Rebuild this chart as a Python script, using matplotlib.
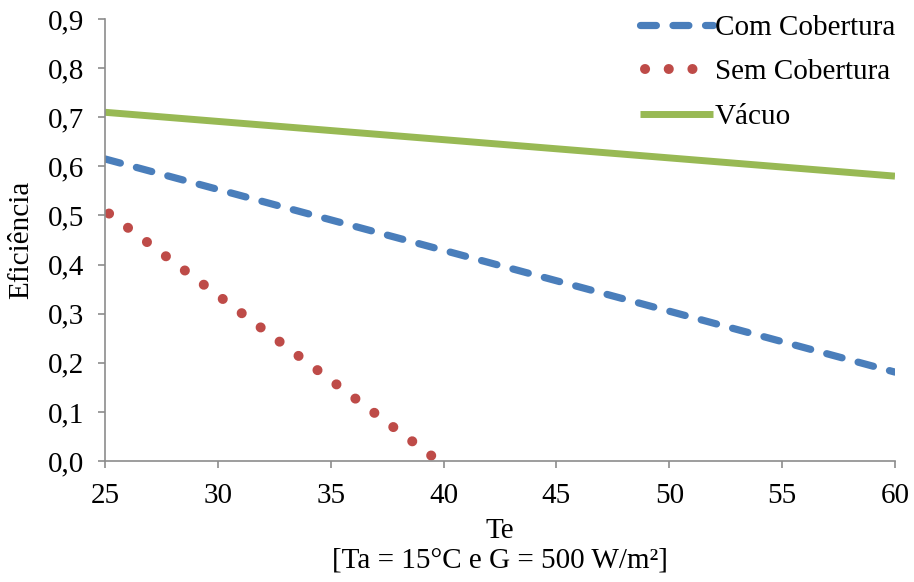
import numpy as np
import matplotlib
matplotlib.use("Agg")
import matplotlib.pyplot as plt
from matplotlib.ticker import FuncFormatter

# --- data ---
te_com = [25, 60]
ef_com = [0.615, 0.181]

te_sem = [25, 39.6]
ef_sem = [0.510, 0.006]

te_vac = [25, 60]
ef_vac = [0.710, 0.580]

x_ticks = [25, 30, 35, 40, 45, 50, 55, 60]
y_ticks = [0.0, 0.1, 0.2, 0.3, 0.4, 0.5, 0.6, 0.7, 0.8, 0.9]

plt.rcParams["font.family"] = ["Liberation Serif", "DejaVu Serif"]
FS = 21

fig = plt.figure(figsize=(9.14, 5.82), dpi=100)
ax = fig.add_axes([0.1149, 0.2079, 0.9792 - 0.1149, 0.9674 - 0.2079])

ax.plot(te_com, ef_com, color="#4a7ebb", lw=5.2, linestyle=(0, (2.2, 2.3)),
        dash_capstyle="round", label="Com Cobertura")
ax.plot(te_sem, ef_sem, color="#be4b48", lw=7.2, linestyle=(1.87, (0.01, 2.36)),
        dash_capstyle="round", label="Sem Cobertura")
ax.plot(te_vac, ef_vac, color="#98b954", lw=5, solid_capstyle="butt",
        label="Vácuo")

ax.set_xlim(25, 60)
ax.set_ylim(0, 0.9)
ax.set_xticks(x_ticks)
ax.set_yticks(y_ticks)
ax.yaxis.set_major_formatter(FuncFormatter(lambda v, p: f"{v:.1f}".replace(".", ",")))

for s in ["top", "right"]:
    ax.spines[s].set_visible(False)
for s in ["left", "bottom"]:
    ax.spines[s].set_color("#8c8c8c")
    ax.spines[s].set_linewidth(1.2)
ax.tick_params(colors="#8c8c8c", labelcolor="black", labelsize=FS, length=5,
               width=1.2, direction="out")
ax.tick_params(axis="y", pad=10)
ax.tick_params(axis="x", pad=11)

ax.set_ylabel("Eficiência", fontsize=FS, labelpad=10)
ax.set_xlabel("Te\n[Ta = 15°C e G = 500 W/m²]", fontsize=FS, linespacing=1.2, labelpad=6)

ax.legend(loc="upper right", bbox_to_anchor=(1.0, 1.01), frameon=False,
          fontsize=FS, handlelength=2.5, handletextpad=0.07, labelspacing=0.62,
          borderpad=0, borderaxespad=0)

fig.savefig("out.png", dpi=100)
